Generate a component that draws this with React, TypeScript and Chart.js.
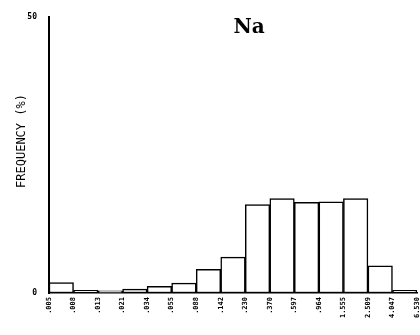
import React, { useEffect, useRef } from "react";
import { Chart, registerables } from "chart.js";

Chart.register(...registerables);

const binEdges = [".005", ".008", ".013", ".021", ".034", ".055", ".088", ".142", ".230", ".370", ".597", ".964", "1.555", "2.509", "4.047", "6.530"];
const frequency = [1.9, 0.5, 0.4, 0.7, 1.2, 1.8, 4.3, 6.5, 16.0, 17.1, 16.4, 16.5, 17.1, 4.9, 0.5];
const yTicks = [0, 50];
const chartTitle = "Na";
const yTitle = "FREQUENCY (%)";

const textPlugin = {
  id: "textPlugin",
  afterDraw(chart: any) {
    const { ctx } = chart;
    ctx.save();
    ctx.fillStyle = "#000";
    ctx.font = "bold 20px 'DejaVu Serif'";
    ctx.textAlign = "center";
    ctx.textBaseline = "alphabetic";
    ctx.fillText(chartTitle, 249, 33);
    ctx.translate(22, 141);
    ctx.rotate(-Math.PI / 2);
    ctx.font = "12px 'DejaVu Sans Mono'";
    ctx.textBaseline = "middle";
    ctx.fillText(yTitle, 0, 0);
    ctx.restore();
  },
};

export default function App() {
  const ref = useRef<HTMLCanvasElement>(null);
  useEffect(() => {
    document.body.style.margin = "0";
    const data = frequency.map((v, i) => ({ x: i + 0.5, y: v }));
    const chart = new Chart(ref.current as HTMLCanvasElement, {
      type: "bar",
      data: {
        datasets: [
          {
            data: data as any,
            backgroundColor: "#ffffff",
            borderColor: "#000000",
            borderWidth: 1.5,
            borderSkipped: false,
            barPercentage: 1,
            categoryPercentage: 1,
          },
        ],
      },
      options: {
        animation: false,
        responsive: false,
        maintainAspectRatio: false,
        layout: { padding: { top: 15, right: 3, left: 0, bottom: 0 } },
        plugins: { legend: { display: false }, tooltip: { enabled: false }, title: { display: false } },
        scales: {
          x: {
            type: "linear",
            min: 0,
            max: binEdges.length - 1,
            offset: false,
            grid: { display: false, drawTicks: false, offset: false },
            border: { display: true, color: "#000", width: 1.5 },
            afterBuildTicks: (scale: any) => {
              scale.ticks = binEdges.map((_, i) => ({ value: i }));
            },
            ticks: {
              autoSkip: false,
              minRotation: 90,
              maxRotation: 90,
              padding: 4,
              color: "#000",
              font: { family: "'DejaVu Sans Mono'", size: 7, weight: "bold" },
              callback: (v: any) => binEdges[Math.round(Number(v))] ?? "",
            },
            afterFit: (scale: any) => {
              scale.height = 42;
              scale.paddingRight = 0;
              scale.paddingLeft = 0;
            },
          },
          y: {
            min: 0,
            max: 50,
            grid: { display: false, drawTicks: false },
            border: { display: true, color: "#000", width: 2 },
            afterBuildTicks: (scale: any) => {
              scale.ticks = yTicks.map((v) => ({ value: v }));
            },
            ticks: {
              padding: 12,
              color: "#000",
              font: { family: "'DejaVu Sans Mono'", size: 8, weight: "bold" },
            },
            afterFit: (scale: any) => {
              scale.width = 49;
            },
          },
        },
      },
      plugins: [textPlugin],
    });
    return () => chart.destroy();
  }, []);
  return <canvas ref={ref} width={420} height={335} style={{ display: "block" }} />;
}
